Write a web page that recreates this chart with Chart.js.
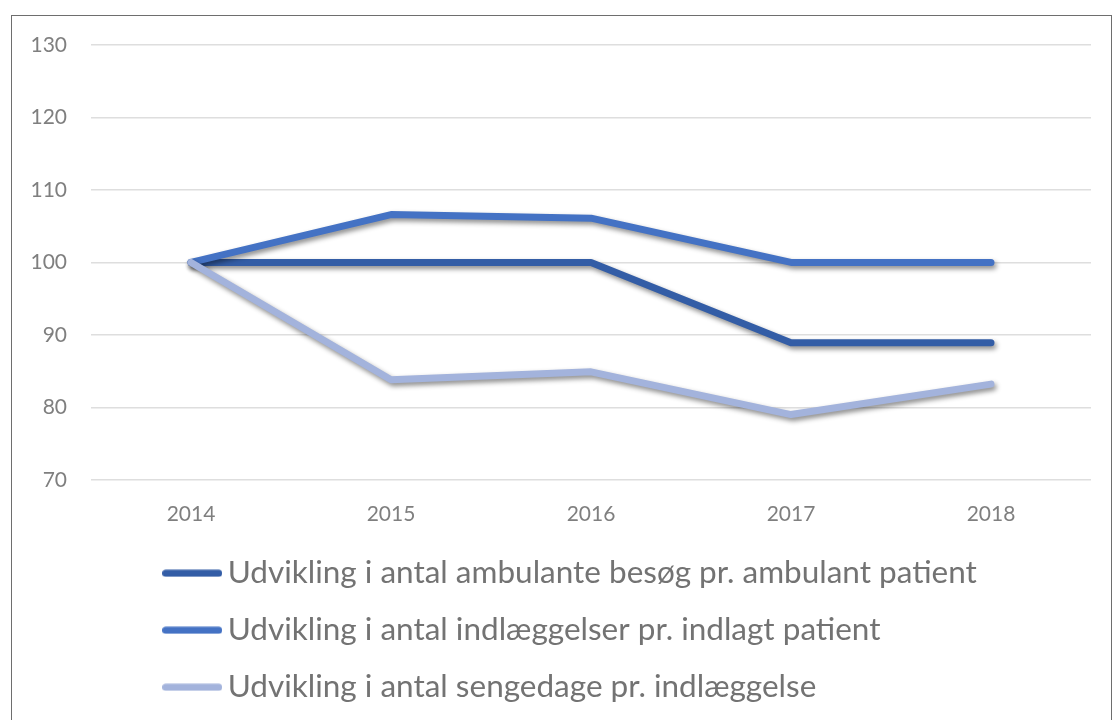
<!DOCTYPE html>
<html>
<head>
<meta charset="utf-8">
<script src="https://cdn.jsdelivr.net/npm/chart.js@4/dist/chart.umd.min.js"></script>
<style>
  html, body { margin: 0; padding: 0; width: 1115px; height: 720px; overflow: hidden; background: #ffffff; }
  #wrap { position: absolute; left: 0; top: 0; width: 1115px; height: 713px; }
  #frame { position: absolute; left: 11px; top: 15px; width: 1101px; height: 800px;
           border-left: 1.5px solid #6e6e6e; border-top: 1.5px solid #6e6e6e; border-right: 1.5px solid #6e6e6e;
           pointer-events: none; box-sizing: border-box; }
</style>
</head>
<body>
<div id="wrap"><canvas id="c" width="1115" height="713"></canvas></div>
<div id="frame"></div>
<script>
const categories = ["2014", "2015", "2016", "2017", "2018"];
const seriesNames = [
  "Udvikling i antal ambulante besøg pr. ambulant patient",
  "Udvikling i antal indlæggelser pr. indlagt patient",
  "Udvikling i antal sengedage pr. indlæggelse"
];
const ambulanteBesoeg = [100, 100, 100, 88.9, 88.9];
const indlaeggelser = [100, 106.6, 106.1, 100, 100];
const sengedage = [100, 83.8, 84.9, 79.0, 83.2];
const yTicks = [70, 80, 90, 100, 110, 120, 130];

const colors = ["#335DA6", "#4472C4", "#A3B3DC"];
const fontFamily = "Lato, 'Open Sans', sans-serif";

function legendLine(color) {
  const c = document.createElement('canvas');
  c.width = 60; c.height = 8;
  const g = c.getContext('2d');
  g.strokeStyle = color;
  g.lineWidth = 7;
  g.lineCap = 'round';
  g.beginPath();
  g.moveTo(3.5, 4);
  g.lineTo(56.5, 4);
  g.stroke();
  return c;
}

const shadowPlugin = {
  id: 'lineShadow',
  beforeDatasetsDraw(chart) {
    const ctx = chart.ctx;
    ctx.save();
    ctx.shadowColor = 'rgba(0,0,0,0.45)';
    ctx.shadowBlur = 5;
    ctx.shadowOffsetX = 2;
    ctx.shadowOffsetY = 3;
  },
  afterDatasetsDraw(chart) {
    chart.ctx.restore();
  }
};

const legendShift = {
  id: 'legendShift',
  afterLayout(chart) {
    const lg = chart.legend;
    const pad = lg.options.labels.padding;
    lg.left = 172.5 - pad;
  }
};

function ds(label, data, color, order) {
  return {
    label: label,
    data: data,
    borderColor: color,
    backgroundColor: color,
    borderWidth: 7,
    borderCapStyle: 'round',
    borderJoinStyle: 'round',
    pointRadius: 0,
    pointHoverRadius: 0,
    pointStyle: legendLine(color),
    tension: 0,
    fill: false,
    order: order
  };
}

new Chart(document.getElementById('c'), {
  type: 'line',
  data: {
    labels: categories,
    datasets: [
      ds(seriesNames[0], ambulanteBesoeg, colors[0], 3),
      ds(seriesNames[1], indlaeggelser, colors[1], 2),
      ds(seriesNames[2], sengedage, colors[2], 1)
    ]
  },
  options: {
    responsive: false,
    animation: false,
    devicePixelRatio: 1,
    layout: { padding: { top: 45, right: 24, left: 0, bottom: 0 } },
    scales: {
      x: {
        offset: true,
        grid: { display: false, drawTicks: false },
        border: { display: false },
        ticks: { color: '#7f7f7f', font: { family: fontFamily, size: 21 }, padding: 22, maxRotation: 0 },
        afterFit(s) { s.height -= 17; }
      },
      y: {
        min: 70, max: 130,
        afterBuildTicks(s) { s.ticks = yTicks.map(v => ({ value: v })); },
        grid: { color: '#dedede', lineWidth: 1.5, drawTicks: false },
        border: { display: false },
        ticks: { color: '#7f7f7f', font: { family: fontFamily, size: 21 }, padding: 24 },
        afterFit(s) { s.width = 91; }
      }
    },
    plugins: {
      tooltip: { enabled: false },
      legend: {
        position: 'bottom',
        align: 'start',
        labels: {
          usePointStyle: true,
          pointStyleWidth: 39.5,
          color: '#737373',
          font: { family: fontFamily, size: 31.5 },
          padding: 25.5,
          sort: (a, b) => a.datasetIndex - b.datasetIndex
        }
      }
    }
  },
  plugins: [shadowPlugin, legendShift]
});
</script>
</body>
</html>
